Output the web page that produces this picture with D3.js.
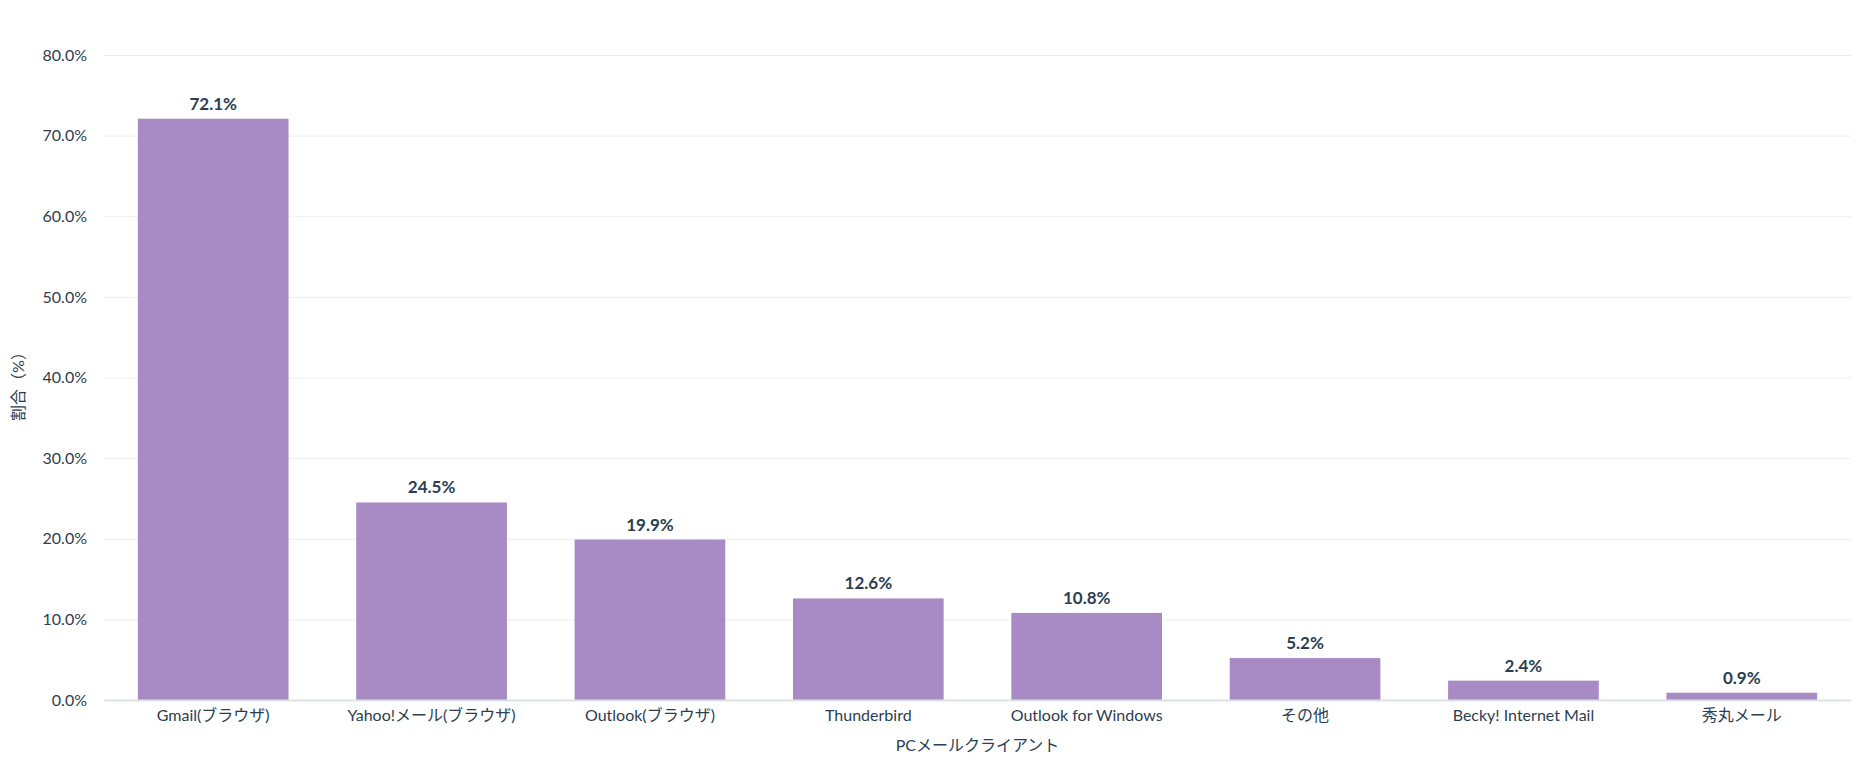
<html>
<head>
<meta charset="utf-8">
<style>
  body { margin: 0; background: #fff; }
  text { font-family: Lato, "Noto Sans CJK JP", sans-serif; }
</style>
</head>
<body>
  <svg id="svg" width=1866 height=764></svg>

  <script src="https://cdn.jsdelivr.net/npm/d3@7"></script>
  <script type="text/javascript">
  const clients = ["Gmail(ブラウザ)", "Yahoo!メール(ブラウザ)", "Outlook(ブラウザ)", "Thunderbird",
                   "Outlook for Windows", "その他", "Becky! Internet Mail", "秀丸メール"];
  const shares = [72.1, 24.5, 19.9, 12.6, 10.8, 5.2, 2.4, 0.9];
  const yTicks = [0, 10, 20, 30, 40, 50, 60, 70, 80];

  const W = 1866, H = 764;
  const m = {top: 55, right: 15, bottom: 64, left: 104};
  const ink = "#2c3e50";

  let svg = d3.select("#svg");
  let x = d3.scaleBand().domain(clients).range([m.left, W - m.right]).paddingInner(0.31).paddingOuter(0.155);
  let y = d3.scaleLinear().domain([0, 80]).range([H - m.bottom, m.top]);

  // grid lines
  svg.append("g").selectAll("line").data(yTicks).enter().append("line")
    .attr("x1", m.left).attr("x2", W - m.right)
    .attr("y1", d => y(d) + 0.5).attr("y2", d => y(d) + 0.5)
    .style("stroke", "#eeeeee").style("stroke-width", "1px");

  // y axis
  let ya = svg.append("g").attr("transform", "translate(" + (m.left - 14) + ",0)")
    .call(d3.axisLeft(y).tickValues(yTicks).tickSize(0).tickFormat(d => d3.format(".1f")(d) + "%"));
  ya.select(".domain").remove();
  ya.selectAll("text").attr("font-size", 16).attr("fill", ink)
    .attr("font-family", "Lato, sans-serif");

  // bars
  svg.append("g").selectAll("rect").data(shares).enter().append("rect")
    .attr("x", (d, i) => x(clients[i]))
    .attr("y", d => y(d))
    .attr("width", x.bandwidth())
    .attr("height", d => y(0) - y(d))
    .style("fill", "#a88ac4");

  // value labels
  svg.append("g").selectAll("text").data(shares).enter().append("text")
    .text(d => d.toFixed(1) + "%")
    .attr("x", (d, i) => x(clients[i]) + x.bandwidth() / 2)
    .attr("y", d => y(d) - 9)
    .attr("text-anchor", "middle")
    .attr("font-size", 17).attr("font-weight", "bold").attr("fill", ink);

  // x axis
  let xa = svg.append("g").attr("transform", "translate(0," + y(0) + ")")
    .call(d3.axisBottom(x).tickSize(0).tickPadding(10));
  xa.select(".domain").style("stroke", "#dde3e3").style("stroke-width", "2px");
  xa.selectAll("text").attr("font-size", 16).attr("fill", ink)
    .attr("font-family", "Lato, 'Noto Sans CJK JP', sans-serif");

  // axis titles
  svg.append("text").text("PCメールクライアント")
    .attr("x", (m.left + W - m.right) / 2).attr("y", 751)
    .attr("text-anchor", "middle").attr("font-size", 16).attr("fill", ink);
  svg.append("text").text("割合（%）")
    .attr("transform", "translate(24," + ((m.top + H - m.bottom) / 2 + 5) + ") rotate(-90)")
    .attr("text-anchor", "middle").attr("font-size", 16).attr("fill", ink);
  </script>
</body>
</html>
